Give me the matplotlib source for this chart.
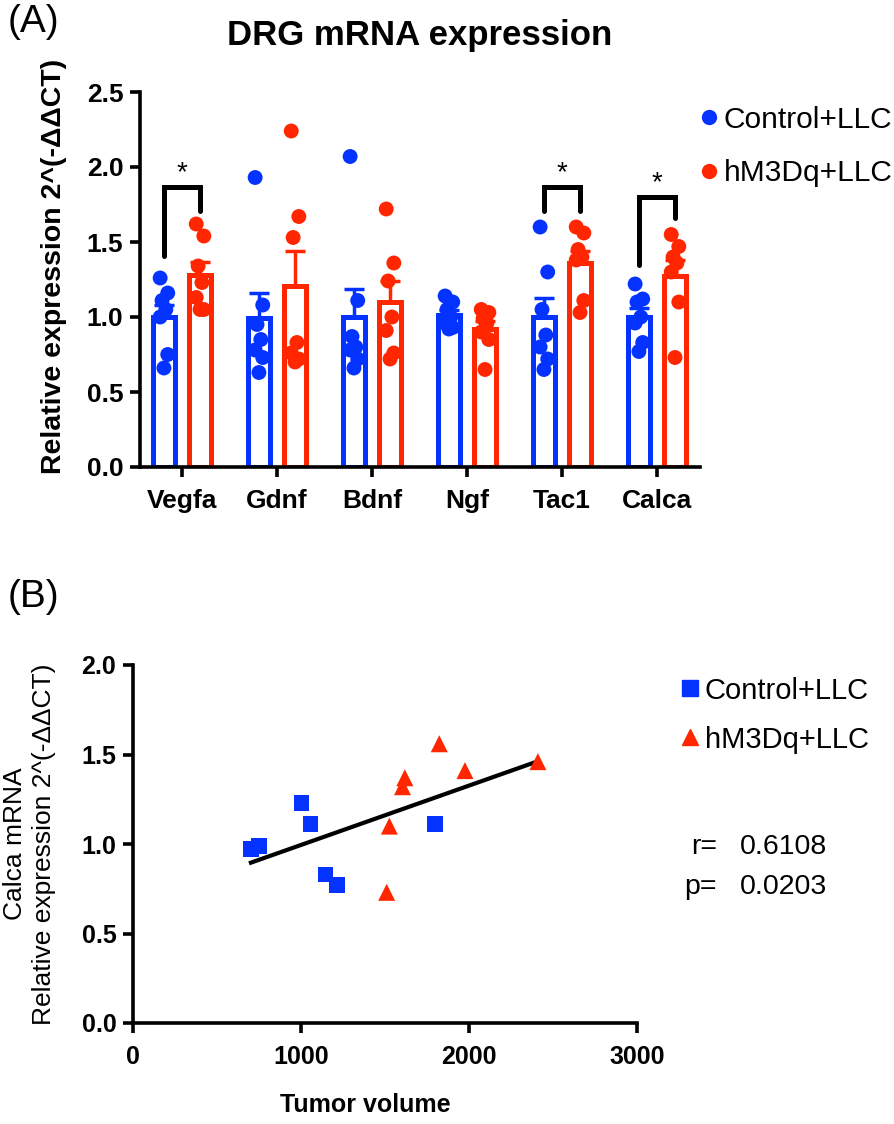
import numpy as np
import matplotlib
matplotlib.use("Agg")
import matplotlib.pyplot as plt
from matplotlib.lines import Line2D

plt.rcParams['font.family'] = ['Liberation Sans', 'DejaVu Sans']

BLUE = '#0433FF'
RED = '#FF2600'

# ---- panel A data ----
genes = ['Vegfa', 'Gdnf', 'Bdnf', 'Ngf', 'Tac1', 'Calca']
control = [
    [1.26, 1.16, 1.11, 1.05, 1.00, 0.75, 0.66],
    [1.93, 1.08, 0.95, 0.85, 0.78, 0.73, 0.63],
    [2.07, 1.11, 0.87, 0.80, 0.78, 0.72, 0.66],
    [1.14, 1.10, 1.05, 1.00, 0.96, 0.93, 0.92],
    [1.60, 1.30, 1.05, 0.88, 0.80, 0.72, 0.65],
    [1.22, 1.12, 1.10, 1.00, 0.96, 0.83, 0.77],
]
hm3dq = [
    [1.62, 1.54, 1.34, 1.23, 1.13, 1.05, 1.05],
    [2.24, 1.67, 1.53, 0.83, 0.76, 0.72, 0.70],
    [1.72, 1.36, 1.24, 1.00, 0.91, 0.76, 0.72],
    [1.05, 1.03, 0.99, 0.96, 0.90, 0.85, 0.65],
    [1.60, 1.56, 1.45, 1.40, 1.38, 1.11, 1.03],
    [1.55, 1.47, 1.40, 1.36, 1.30, 1.10, 0.73],
]
# significance brackets: gene index, left foot, right foot, top
sig_genes = [0, 4, 5]
sig_left = [1.41, 1.71, 1.35]
sig_right = [1.71, 1.71, 1.66]
sig_top = [1.87, 1.87, 1.80]

# ---- panel B data ----
ctrl_vol = [702, 748, 1003, 1057, 1146, 1216, 1799]
ctrl_calca = [0.97, 0.99, 1.23, 1.11, 0.83, 0.77, 1.11]
hm_vol = [1510, 1526, 1604, 1618, 1823, 1976, 2410]
hm_calca = [0.73, 1.10, 1.32, 1.37, 1.56, 1.41, 1.46]
r_text = '0.6108'
p_text = '0.0203'

fig = plt.figure(figsize=(8.94, 11.24), dpi=100)

# ================= (A) =================
ax = fig.add_axes([140/894, 1-467/1124, 560/894, 375/1124])
x = np.arange(len(genes))
off = 0.19
w = 0.24
jit = 0.04 * np.array([-1, 1, -0.5, 0.5, -1, 1, 0])

for vals_all, sgn, col in [(control, -1, BLUE), (hm3dq, 1, RED)]:
    for i, vals in enumerate(vals_all):
        v = np.array(vals)
        m = v.mean()
        sem = v.std(ddof=1) / np.sqrt(len(v))
        xc = x[i] + sgn * off
        ax.bar(xc, m, width=w, facecolor='white', edgecolor=col, linewidth=3.6, zorder=2)
        ax.errorbar(xc, m, yerr=[[0], [sem]], fmt='none', ecolor=col,
                    elinewidth=2.5, capsize=7, capthick=2.5, zorder=2.5)
        ax.scatter(xc + jit[:len(v)], v, s=115, color=col, edgecolors='none', zorder=3)

for gi, yl, yr, yt in zip(sig_genes, sig_left, sig_right, sig_top):
    ax.plot([gi - off, gi - off, gi + off, gi + off], [yl, yt, yt, yr],
            color='black', lw=3.6, solid_joinstyle='miter', solid_capstyle='round', zorder=4)
    ax.text(gi, yt + 0.09, '*', ha='center', va='center', fontsize=20)

ax.set_xlim(-0.442, 5.453)
ax.set_ylim(0, 2.5)
ax.set_yticks([0, 0.5, 1.0, 1.5, 2.0, 2.5])
ax.set_yticklabels(['0.0', '0.5', '1.0', '1.5', '2.0', '2.5'])
ax.set_xticks(x)
ax.set_xticklabels(genes)
for sp in ['top', 'right']:
    ax.spines[sp].set_visible(False)
for sp in ['left', 'bottom']:
    ax.spines[sp].set_linewidth(2.6)
ax.tick_params(width=2.6, length=7, labelsize=19, pad=5)
ax.tick_params(axis='x', pad=9)
for lab in ax.get_xticklabels() + ax.get_yticklabels():
    lab.set_fontweight('bold')
ax.set_ylabel('Relative expression 2^(-ΔΔCT)', fontsize=20.5, fontweight='bold')
ax.yaxis.set_label_coords(-0.13, 0.536)
fig.text(420/894, 1-35/1124, 'DRG mRNA expression', fontsize=25, fontweight='bold',
         ha='center', va='center')

hA = [Line2D([], [], marker='o', ls='none', color=BLUE, markersize=10),
      Line2D([], [], marker='o', ls='none', color=RED, markersize=10)]
fig.legend(hA, ['Control+LLC', 'hM3Dq+LLC'], loc='upper left',
           bbox_to_anchor=(682/894, 1-91/1124), frameon=False, fontsize=21.5,
           handletextpad=0.1, labelspacing=0.85, handlelength=0.8, borderpad=0)

fig.text(8/894, 1-22/1124, '(A)', fontsize=28, va='center', ha='left')

# ================= (B) =================
bx = fig.add_axes([133/894, 1-1023/1124, 504/894, 358/1124])
bx.scatter(ctrl_vol, ctrl_calca, marker='s', s=130, color=BLUE, edgecolors='none', zorder=3)
bx.scatter(hm_vol, hm_calca, marker='^', s=150, color=RED, edgecolors='none', zorder=3)
allx = np.array(ctrl_vol + hm_vol)
ally = np.array(ctrl_calca + hm_calca)
k, b = np.polyfit(allx, ally, 1)
xl = np.array([allx.min(), allx.max()])
bx.plot(xl, k * xl + b, color='black', lw=3, zorder=2)

bx.set_xlim(0, 3000)
bx.set_ylim(0, 2.0)
bx.set_xticks([0, 1000, 2000, 3000])
bx.set_yticks([0, 0.5, 1.0, 1.5, 2.0])
bx.set_yticklabels(['0.0', '0.5', '1.0', '1.5', '2.0'])
for sp in ['top', 'right']:
    bx.spines[sp].set_visible(False)
for sp in ['left', 'bottom']:
    bx.spines[sp].set_linewidth(2.6)
bx.tick_params(width=2.6, length=7, labelsize=18, pad=5)
bx.tick_params(axis='x', pad=9)
for lab in bx.get_xticklabels() + bx.get_yticklabels():
    lab.set_fontweight('bold')
bx.set_xlabel('Tumor volume', fontsize=18, fontweight='bold')
bx.xaxis.set_label_coords(0.46, -0.195)
bx.set_ylabel('Calca mRNA\nRelative expression 2^(-ΔΔCT)', fontsize=19, linespacing=1.3)
bx.yaxis.set_label_coords(-0.152, 0.5)

hB = [Line2D([], [], marker='s', ls='none', color=BLUE, markersize=11),
      Line2D([], [], marker='^', ls='none', color=RED, markersize=12)]
fig.legend(hB, ['Control+LLC', 'hM3Dq+LLC'], loc='upper left',
           bbox_to_anchor=(664/894, 1-662/1124), frameon=False, fontsize=21,
           handletextpad=0.1, labelspacing=0.72, handlelength=0.8, borderpad=0)

fig.text(717/894, 1-847/1124, 'r=', fontsize=20.5, ha='right', va='center')
fig.text(740/894, 1-847/1124, r_text, fontsize=20.5, ha='left', va='center')
fig.text(717/894, 1-887/1124, 'p=', fontsize=20.5, ha='right', va='center')
fig.text(740/894, 1-887/1124, p_text, fontsize=20.5, ha='left', va='center')

fig.text(8/894, 1-597/1124, '(B)', fontsize=28, va='center', ha='left')

fig.savefig('out.png', dpi=100)
